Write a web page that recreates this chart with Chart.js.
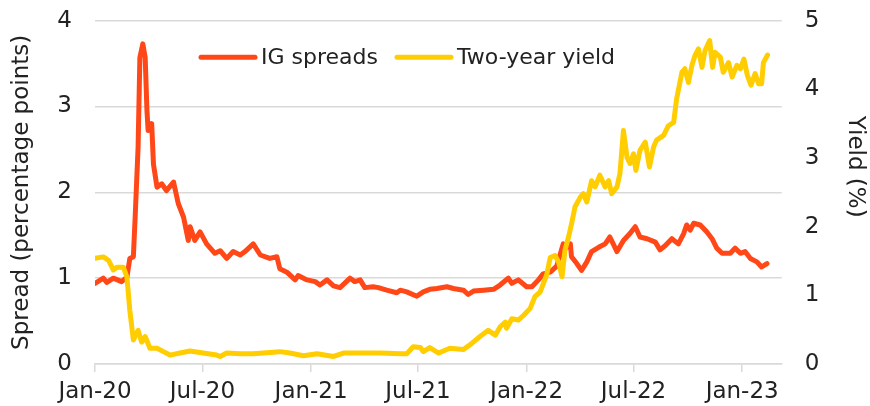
<!DOCTYPE html>
<html><head><meta charset="utf-8">
<script src="https://cdn.jsdelivr.net/npm/chart.js@4/dist/chart.umd.min.js"></script>
<style>html,body{margin:0;padding:0;background:#fff}#wrap{width:870px;height:406px}</style>
</head><body><div id="wrap"><canvas id="c" width="870" height="406"></canvas></div>
<script>
const seriesNames = ['IG spreads', 'Two-year yield'];
const axisTitles = ['Spread (percentage points)', 'Yield (%)'];
const tickDates = ['2020-01-01','2020-07-01','2021-01-01','2021-07-01','2022-01-01','2022-07-01','2023-01-01'];
const tickLabels = ['Jan-20','Jul-20','Jan-21','Jul-21','Jan-22','Jul-22','Jan-23'];
const xStart = '2020-01-01', xEnd = '2023-03-09';

const igDates = ['2020-01-01','2020-01-15','2020-01-21','2020-02-01','2020-02-15','2020-02-24','2020-02-29','2020-03-06','2020-03-09','2020-03-14','2020-03-17','2020-03-22','2020-03-26','2020-03-29','2020-03-31','2020-04-06','2020-04-09','2020-04-15','2020-04-23','2020-05-01','2020-05-13','2020-05-21','2020-05-30','2020-06-07','2020-06-10','2020-06-18','2020-06-27','2020-07-08','2020-07-22','2020-07-31','2020-08-11','2020-08-22','2020-09-03','2020-09-11','2020-09-25','2020-10-07','2020-10-23','2020-11-04','2020-11-09','2020-11-21','2020-12-05','2020-12-10','2020-12-25','2021-01-08','2021-01-16','2021-01-28','2021-02-08','2021-02-19','2021-03-08','2021-03-16','2021-03-25','2021-04-02','2021-04-16','2021-04-25','2021-05-09','2021-05-26','2021-06-01','2021-06-12','2021-06-29','2021-07-10','2021-07-21','2021-08-02','2021-08-19','2021-08-30','2021-09-16','2021-09-24','2021-10-03','2021-10-20','2021-11-06','2021-11-17','2021-12-01','2021-12-07','2021-12-18','2022-01-01','2022-01-10','2022-01-21','2022-01-29','2022-02-10','2022-02-21','2022-03-04','2022-03-10','2022-03-16','2022-03-18','2022-03-27','2022-04-04','2022-04-13','2022-04-21','2022-05-03','2022-05-14','2022-05-22','2022-06-03','2022-06-14','2022-06-25','2022-07-04','2022-07-12','2022-07-24','2022-08-07','2022-08-15','2022-08-24','2022-09-04','2022-09-15','2022-09-24','2022-09-29','2022-10-05','2022-10-11','2022-10-22','2022-11-02','2022-11-11','2022-11-19','2022-11-28','2022-12-12','2022-12-20','2022-12-29','2023-01-06','2023-01-15','2023-01-26','2023-02-03','2023-02-12'];
const igSpreads = [0.94,1.00,0.95,1.00,0.96,1.01,1.23,1.25,1.71,2.53,3.57,3.73,3.57,2.95,2.72,2.80,2.33,2.06,2.10,2.02,2.12,1.87,1.71,1.44,1.60,1.44,1.54,1.40,1.29,1.32,1.23,1.31,1.27,1.31,1.40,1.27,1.23,1.25,1.11,1.07,0.98,1.03,0.98,0.96,0.92,0.98,0.91,0.89,1.00,0.96,0.98,0.89,0.90,0.89,0.86,0.83,0.86,0.84,0.79,0.84,0.87,0.88,0.90,0.88,0.86,0.81,0.85,0.86,0.87,0.92,1.00,0.94,0.98,0.90,0.90,0.98,1.05,1.07,1.14,1.40,1.36,1.40,1.25,1.17,1.09,1.19,1.31,1.36,1.40,1.48,1.31,1.44,1.52,1.60,1.48,1.46,1.42,1.33,1.38,1.46,1.40,1.52,1.62,1.56,1.64,1.62,1.54,1.46,1.35,1.29,1.29,1.35,1.29,1.31,1.23,1.19,1.13,1.17];

const yieldDates = ['2020-01-01','2020-01-15','2020-01-24','2020-02-01','2020-02-07','2020-02-18','2020-02-24','2020-02-29','2020-03-06','2020-03-14','2020-03-20','2020-03-26','2020-04-03','2020-04-15','2020-04-26','2020-05-07','2020-05-24','2020-06-10','2020-07-02','2020-07-25','2020-07-31','2020-08-11','2020-09-03','2020-09-25','2020-11-09','2020-11-26','2020-12-19','2021-01-11','2021-02-08','2021-02-25','2021-03-25','2021-04-28','2021-06-01','2021-06-12','2021-06-23','2021-07-05','2021-07-10','2021-07-21','2021-08-05','2021-08-24','2021-09-16','2021-09-30','2021-10-14','2021-10-28','2021-11-09','2021-11-17','2021-11-26','2021-11-28','2021-12-07','2021-12-18','2021-12-27','2022-01-07','2022-01-15','2022-01-24','2022-02-04','2022-02-10','2022-02-18','2022-02-24','2022-03-02','2022-03-07','2022-03-13','2022-03-18','2022-03-24','2022-04-02','2022-04-07','2022-04-13','2022-04-21','2022-04-27','2022-05-05','2022-05-14','2022-05-20','2022-05-25','2022-06-03','2022-06-08','2022-06-14','2022-06-20','2022-06-25','2022-07-01','2022-07-05','2022-07-12','2022-07-21','2022-07-28','2022-08-04','2022-08-09','2022-08-21','2022-08-29','2022-09-07','2022-09-12','2022-09-21','2022-09-26','2022-10-02','2022-10-08','2022-10-13','2022-10-19','2022-10-25','2022-10-30','2022-11-07','2022-11-12','2022-11-16','2022-11-25','2022-11-30','2022-12-09','2022-12-15','2022-12-23','2022-12-29','2023-01-04','2023-01-10','2023-01-16','2023-01-23','2023-01-29','2023-02-03','2023-02-06','2023-02-13'];
const yieldValues = [1.54,1.56,1.51,1.37,1.41,1.41,1.27,0.78,0.35,0.49,0.32,0.40,0.23,0.23,0.18,0.13,0.16,0.19,0.16,0.13,0.11,0.16,0.15,0.15,0.18,0.16,0.12,0.15,0.11,0.16,0.16,0.16,0.15,0.15,0.25,0.24,0.18,0.24,0.16,0.23,0.21,0.30,0.40,0.49,0.42,0.54,0.61,0.52,0.66,0.64,0.71,0.81,0.98,1.05,1.30,1.55,1.58,1.49,1.27,1.66,1.85,2.04,2.29,2.43,2.48,2.36,2.67,2.58,2.75,2.58,2.67,2.48,2.58,2.77,3.40,3.01,2.92,3.06,2.82,3.11,3.23,2.87,3.16,3.26,3.33,3.47,3.52,3.86,4.25,4.30,4.10,4.35,4.49,4.59,4.32,4.56,4.71,4.32,4.54,4.47,4.25,4.39,4.18,4.35,4.30,4.44,4.20,4.06,4.23,4.08,4.08,4.39,4.50];

const dayOf = s => (Date.UTC(+s.slice(0,4), +s.slice(5,7)-1, +s.slice(8,10)) - Date.UTC(2020,0,1)) / 864e5;

const C_IG = '#ff4717', C_YLD = '#ffcd00', C_GRID = '#d9d9d9', C_TEXT = '#222222';
const FONT = "'DejaVu Sans', sans-serif";
Chart.defaults.font.family = FONT;
Chart.defaults.color = C_TEXT;

const overlay = {
  id: 'overlay',
  afterDatasetsDraw(chart) {
    const ctx = chart.ctx, ca = chart.chartArea;
    const ds = chart.data.datasets;
    ctx.save();
    const y = ca.top + 36.5;
    const items = [{x: ca.left + 106, ds: ds[0]}, {x: ca.left + 302, ds: ds[1]}];
    ctx.font = '22px ' + FONT;
    ctx.textBaseline = 'middle';
    ctx.textAlign = 'left';
    for (const it of items) {
      ctx.strokeStyle = it.ds.borderColor;
      ctx.lineWidth = 5;
      ctx.lineCap = 'round';
      ctx.beginPath();
      ctx.moveTo(it.x, y);
      ctx.lineTo(it.x + 54, y);
      ctx.stroke();
      ctx.fillStyle = C_TEXT;
      ctx.fillText(it.ds.label, it.x + 60, y + 1);
    }
    ctx.translate(ca.right + 73.5, ca.top + 146);
    ctx.rotate(Math.PI / 2);
    ctx.textAlign = 'center';
    ctx.font = '23px ' + FONT;
    ctx.fillText(axisTitles[1], 0, 0);
    ctx.restore();
  }
};

new Chart(document.getElementById('c'), {
  type: 'line',
  data: {
    datasets: [
      {label: seriesNames[0], data: igDates.map((d, i) => ({x: dayOf(d), y: igSpreads[i]})), yAxisID: 'y', borderColor: C_IG, backgroundColor: C_IG, borderWidth: 5, pointRadius: 0, tension: 0, borderJoinStyle: 'round', borderCapStyle: 'round', order: 1},
      {label: seriesNames[1], data: yieldDates.map((d, i) => ({x: dayOf(d), y: yieldValues[i]})), yAxisID: 'y2', borderColor: C_YLD, backgroundColor: C_YLD, borderWidth: 5, pointRadius: 0, tension: 0, borderJoinStyle: 'round', borderCapStyle: 'round', order: 0}
    ]
  },
  options: {
    responsive: false,
    animation: false,
    devicePixelRatio: 1,
    layout: {padding: {top: 20.7, left: 0, right: 0, bottom: 0}},
    plugins: {legend: {display: false}, tooltip: {enabled: false}},
    scales: {
      x: {
        type: 'linear', min: dayOf(xStart), max: dayOf(xEnd),
        afterBuildTicks: s => { s.ticks = tickDates.map(d => ({value: dayOf(d)})); },
        afterFit: s => { s.height = 42; },
        ticks: {autoSkip: false, maxRotation: 0, padding: 6, font: {size: 23}, color: C_TEXT, callback: (v, i) => tickLabels[i]},
        grid: {drawOnChartArea: false, drawTicks: true, tickLength: 8, color: C_GRID, lineWidth: 1.5},
        border: {display: true, color: C_GRID, width: 1.5}
      },
      y: {
        position: 'left', min: 0, max: 4,
        afterFit: s => { s.width = 95; s.paddingTop = 0; s.paddingBottom = 0; },
        ticks: {stepSize: 1, padding: 23, font: {size: 23}, color: C_TEXT},
        grid: {color: C_GRID, lineWidth: 1.5, drawTicks: false},
        border: {display: false},
        title: {display: true, text: axisTitles[0], font: {size: 23}, color: C_TEXT, padding: {top: 8, bottom: 0}}
      },
      y2: {
        position: 'right', min: 0, max: 5,
        afterFit: s => { s.width = 88.3; s.paddingTop = 0; s.paddingBottom = 0; },
        ticks: {stepSize: 1, padding: 23, font: {size: 23}, color: C_TEXT},
        grid: {display: false, drawTicks: false},
        border: {display: false}
      }
    }
  },
  plugins: [overlay]
});
</script></body></html>
